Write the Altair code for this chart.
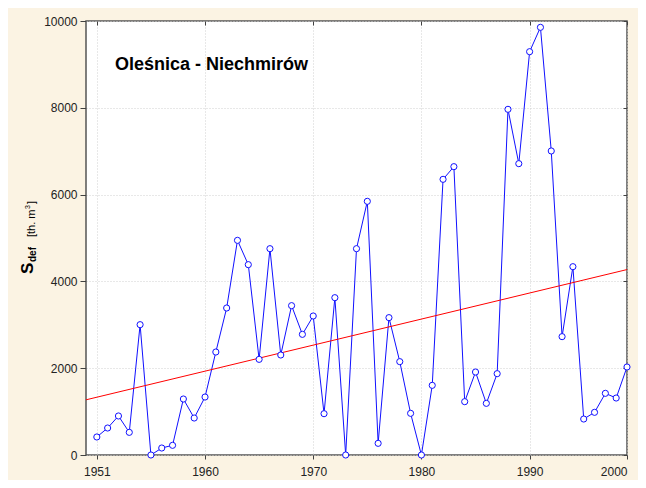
import altair as alt
import pandas as pd

years = list(range(1951, 2001))
values = [415, 622, 899, 522, 3003, 0, 161, 223, 1290, 852,
          1336, 2373, 3387, 4946, 4386, 2204, 4754, 2304, 3441, 2780,
          3203, 952, 3625, 0, 4754, 5845, 269, 3165, 2151, 960,
          0, 1605, 6352, 6644, 1229, 1912, 1190, 1874, 7965, 6713,
          9293, 9854, 7005, 2727, 4339, 829, 983, 1421, 1313, 2028]
x_ticks = [1951, 1961, 1971, 1981, 1991, 2000]
y_ticks = [0, 2000, 4000, 6000, 8000, 10000]
title_text = "Oleśnica - Niechmirów"

df = pd.DataFrame({"year": years, "value": values})

FONT = "Liberation Sans"
xs = alt.Scale(domain=[1950, 2000], nice=False, zero=False)
ys = alt.Scale(domain=[0, 10000], nice=False)

x_axis = alt.Axis(values=x_ticks, title=None, grid=True, gridColor="#D0D0D0", gridDash=[1, 2],
                  domain=False, tickSize=4, tickColor="#404040", labelPadding=7,
                  labelFont=FONT, labelFontSize=12, labelColor="#222222",
                  labelExpr="datum.value == 1951 || datum.value == 2000 ? '' + datum.value : '' + (datum.value - 1)")
y_axis = alt.Axis(values=y_ticks, title=None, grid=True, gridColor="#D0D0D0", gridDash=[1, 2],
                  domain=False, tickSize=6, tickColor="#404040", labelPadding=3, format="d",
                  labelFont=FONT, labelFontSize=12, labelColor="#222222")

line = alt.Chart(df).mark_line(color="#1010FF", strokeWidth=1).encode(
    x=alt.X("year:Q", scale=xs, axis=x_axis),
    y=alt.Y("value:Q", scale=ys, axis=y_axis),
)

trend = alt.Chart(df).transform_regression("year", "value", extent=[1950, 2000]).mark_line(
    color="#FF0000", strokeWidth=1).encode(
    x=alt.X("year:Q", scale=xs, axis=alt.Axis(orient="top", values=x_ticks, labels=False, grid=False,
                                              domain=False, tickSize=4, offset=-4, tickColor="#404040", title=None)),
    y=alt.Y("value:Q", scale=ys, axis=alt.Axis(orient="right", values=y_ticks, labels=False, grid=False,
                                               domain=False, tickSize=4, offset=-4, tickColor="#404040", title=None)),
)

points = alt.Chart(df).mark_point(shape="circle", filled=True, fill="white", stroke="#1010FF",
                                  strokeWidth=1, size=38, opacity=1).encode(
    x=alt.X("year:Q", scale=xs, axis=None),
    y=alt.Y("value:Q", scale=ys, axis=None),
)

title = alt.Chart(pd.DataFrame({"t": [title_text]})).mark_text(
    align="left", baseline="alphabetic", font=FONT, fontSize=18, fontWeight="bold", color="#000000"
).encode(x=alt.value(29), y=alt.value(49), text="t:N")

label_parts = pd.DataFrame({
    "t": ["S", "def", "[th. m", "3", "]"],
    "px": [-53, -50, -51, -56, -51],
    "py": [253, 241, 216, 188, 183],
    "fs": [17, 10, 11, 7, 11],
    "fw": ["bold", "bold", "normal", "normal", "normal"],
})

def part(i):
    r = label_parts.iloc[i]
    return alt.Chart(pd.DataFrame({"t": [r["t"]]})).mark_text(
        align="left", baseline="alphabetic", angle=270, font=FONT,
        fontSize=int(r["fs"]), fontWeight=r["fw"], color="#000000"
    ).encode(x=alt.value(int(r["px"])), y=alt.value(int(r["py"])), text="t:N")

layers = [line, trend, points, title] + [part(i) for i in range(len(label_parts))]

chart = alt.layer(*layers).resolve_axis(x="independent", y="independent").properties(
    width=541, height=434,
    autosize=alt.AutoSizeParams(type="none"),
    padding={"left": 78, "top": 13, "right": 11, "bottom": 25},
    background="#FBF3E3",
).configure_view(
    fill="white", stroke="#555555", strokeWidth=1.5
)

chart.save("out.html", embed_options={"renderer": "svg", "actions": False})
